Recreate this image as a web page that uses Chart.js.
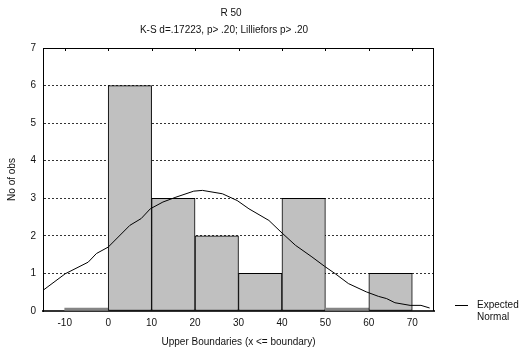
<!DOCTYPE html>
<html>
<head>
<meta charset="utf-8">
<script src="https://cdn.jsdelivr.net/npm/chart.js@4"></script>
<style>
  html, body { margin: 0; padding: 0; background: #fff; }
</style>
</head>
<body>
<canvas id="chart" width="529" height="351"></canvas>
<script>
// --- data ---
const upperBounds = [0, 10, 20, 30, 40, 50, 60, 70];
const counts = [0, 6, 3, 2, 1, 3, 0, 1];
const xTicks = [-10, 0, 10, 20, 30, 40, 50, 60, 70];
// expected normal curve, as drawn
const normalX = [-15, -9.9, -4.6, -2.7, 0, 5, 7.6, 9.7, 12.6, 15.6, 19.7, 21.7, 26.3, 29.7, 32.4, 37, 39.8, 43.1, 46.9, 49.8, 52.3, 55.3, 59.4, 62.2, 64.1, 66, 69.5, 72, 74];
const normalY = [0.55, 0.99, 1.30, 1.53, 1.70, 2.28, 2.46, 2.72, 2.90, 3.03, 3.19, 3.21, 3.12, 2.94, 2.72, 2.41, 2.10, 1.75, 1.44, 1.19, 0.99, 0.73, 0.51, 0.39, 0.33, 0.22, 0.15, 0.15, 0.08];

const FONT = '"Liberation Sans", Arial, sans-serif';
const binWidth = 10;

// titles, legend and the top/right frame
const extras = {
    id: 'extras',
    afterDraw(chart) {
        const { ctx, chartArea: a, scales: { x } } = chart;
        ctx.save();
        ctx.strokeStyle = '#000';
        ctx.lineWidth = 1;
        ctx.beginPath();
        ctx.moveTo(a.left, a.top + 0.5);
        ctx.lineTo(a.right, a.top + 0.5);
        ctx.moveTo(a.right - 0.5, a.top);
        ctx.lineTo(a.right - 0.5, a.bottom);
        xTicks.forEach(v => {
            const px = Math.round(x.getPixelForValue(v)) + 0.5;
            ctx.moveTo(px, a.top);
            ctx.lineTo(px, a.top + 3);
        });
        ctx.stroke();

        ctx.fillStyle = '#111';
        ctx.font = '10px ' + FONT;
        ctx.textBaseline = 'middle';
        ctx.textAlign = 'center';
        ctx.fillText('R 50', 231, 13);
        ctx.fillText('K-S d=.17223, p> .20; Lilliefors p> .20', 224, 30);

        // legend
        ctx.beginPath();
        ctx.moveTo(455, 305.5);
        ctx.lineTo(468, 305.5);
        ctx.stroke();
        ctx.textAlign = 'left';
        const label = chart.data.datasets[0].label.split(' ');
        ctx.fillText(label[0], 477, 305);
        ctx.fillText(label[1], 477, 317);
        ctx.restore();
    }
};

new Chart(document.getElementById('chart'), {
    type: 'bar',
    data: {
        datasets: [{
            type: 'line',
            label: 'Expected Normal',
            data: normalX.map((v, i) => ({ x: v, y: normalY[i] })),
            borderColor: '#000',
            borderWidth: 1,
            pointRadius: 0,
            tension: 0,
            fill: false,
            order: 0
        }, {
            label: 'No of obs',
            data: upperBounds.map((b, i) => ({ x: b - binWidth / 2, y: counts[i] })),
            backgroundColor: c => c.raw && c.raw.y === 0 ? '#858585' : '#c0c0c0',
            borderColor: '#000',
            borderWidth: c => c.raw && c.raw.y === 0 ? 0 : 1,
            borderSkipped: false,
            barPercentage: 1,
            categoryPercentage: 1,
            minBarLength: 3,
            order: 1
        }]
    },
    options: {
        responsive: false,
        animation: false,
        layout: { padding: { top: 48, right: 95, left: 0, bottom: 0 } },
        plugins: {
            legend: { display: false },
            tooltip: { enabled: false }
        },
        scales: {
            x: {
                type: 'linear',
                min: -15,
                max: 75,
                offset: false,
                afterBuildTicks: s => { s.ticks = xTicks.map(v => ({ value: v })); },
                afterFit: s => { s.height = 40; },
                grid: { display: false, drawTicks: false },
                border: { display: true, color: '#333', width: 2 },
                ticks: { padding: 6, color: '#111', font: { family: FONT, size: 10 } },
                title: {
                    display: true,
                    text: 'Upper Boundaries (x <= boundary)',
                    color: '#111',
                    font: { family: FONT, size: 10 },
                    padding: { top: 0, bottom: 3 }
                }
            },
            y: {
                min: 0,
                max: 7,
                ticks: { stepSize: 1, padding: 7, color: '#111', font: { family: FONT, size: 10 } },
                afterFit: s => { s.width = 43; },
                grid: {
                    drawTicks: false,
                    color: c => (c.tick && (c.tick.value === 0 || c.tick.value === 7)) ? 'rgba(0,0,0,0)' : '#333',
                    lineWidth: 1
                },
                border: { display: true, color: '#000', width: 1, dash: [2, 2] },
                title: {
                    display: true,
                    text: 'No of obs',
                    color: '#111',
                    font: { family: FONT, size: 10 },
                    padding: { top: 6, bottom: 0 }
                }
            }
        }
    },
    plugins: [extras]
});
</script>
</body>
</html>
